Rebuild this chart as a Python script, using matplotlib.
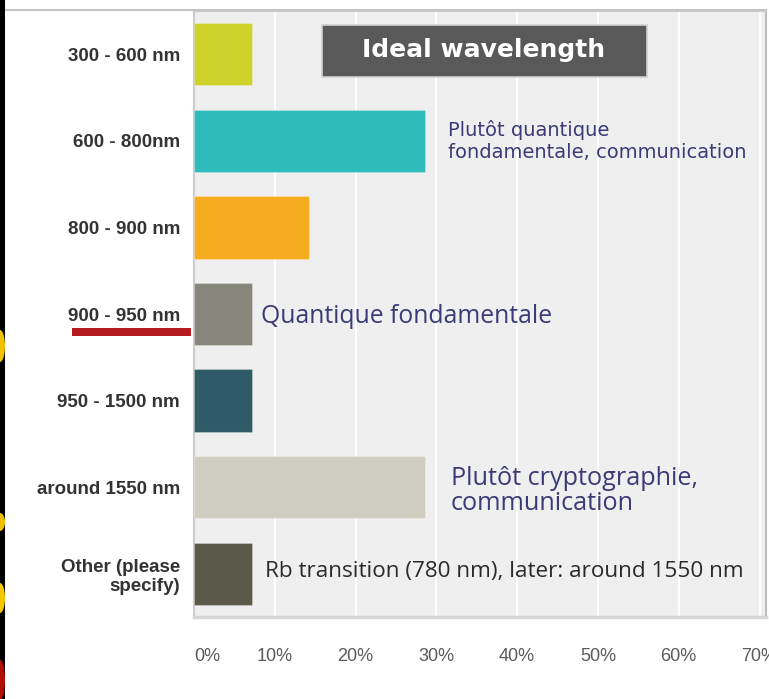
import matplotlib
matplotlib.use("Agg")
import matplotlib.pyplot as plt
from matplotlib.patches import Rectangle, Ellipse
from matplotlib.lines import Line2D

# Survey answers: share of respondents per wavelength range (%)
categories = ["300 - 600 nm", "600 - 800nm", "800 - 900 nm", "900 - 950 nm",
              "950 - 1500 nm", "around 1550 nm", "Other (please\nspecify)"]
shares = [7.14, 28.57, 14.29, 7.14, 7.14, 28.57, 7.14]
bar_colors = ["#cfd22a", "#2fbbbb", "#f5ad1f", "#86877a",
              "#2e5b67", "#cfcdbf", "#5a5848"]
x_ticks = [0, 10, 20, 30, 40, 50, 60, 70]
x_tick_labels = ["0%", "10%", "20%", "30%", "40%", "50%", "60%", "70%"]

W, H = 769, 699
fig = plt.figure(figsize=(W / 100, H / 100), dpi=100)
fig.patch.set_facecolor("white")


def fx(px):
    return px / W


def fy(py):
    return 1 - py / H


ax = fig.add_axes([fx(194), fy(617), fx(766) - fx(194), fy(11) - fy(617)])
ax.set_facecolor("#efefef")

ypos = list(range(len(categories)))
ax.barh(ypos, shares, height=0.72, color=bar_colors,
        edgecolor="#ffffff40", linewidth=0.8, zorder=3)

ax.set_xlim(0, 70.8)
ax.set_ylim(len(categories) - 0.5, -0.5)
ax.set_xticks(x_ticks)
ax.set_xticklabels(x_tick_labels, family="Liberation Sans", fontsize=13,
                   color="#5a5a5a")
ax.set_yticks(ypos)
ax.set_yticklabels(categories, family="Liberation Sans", fontsize=13.5,
                   fontweight="bold", color="#333333")
ax.tick_params(axis="y", length=0, pad=10)
ax.tick_params(axis="x", length=0, pad=22)
ax.get_xticklabels()[0].set_horizontalalignment("left")
ax.xaxis.grid(True, color="white", linewidth=1.4, zorder=1)
ax.set_axisbelow(True)
for side, sp in ax.spines.items():
    sp.set_color("#cccccc")
    sp.set_linewidth(1.5)
ax.spines["bottom"].set_color("#d6d6d6")
ax.spines["bottom"].set_linewidth(2.5)
ax.spines["right"].set_color("#bdbdbd")

# annotations next to the bars
navy = "#3b3b78"
ax.text(31.4, 1, "Plutôt quantique\nfondamentale, communication",
        family="DejaVu Sans", fontsize=14, color=navy, va="center",
        ha="left", linespacing=1.2, zorder=4)
ax.text(8.3, 3.03, "Quantique fondamentale", family="Open Sans",
        fontsize=17.8, color=navy, va="center", ha="left", zorder=4)
ax.text(31.8, 5.04, "Plutôt cryptographie,\ncommunication",
        family="Open Sans", fontsize=18.2, color=navy, va="center",
        ha="left", linespacing=1.0, zorder=4)
ax.text(8.8, 5.97, "Rb transition (780 nm), later: around 1550 nm",
        family="Open Sans", fontsize=16.2, color="#2a2a2a", va="center",
        ha="left", zorder=4)

# title box
fig.add_artist(Rectangle((fx(322), fy(77)), fx(647) - fx(322), fy(25) - fy(77),
                         transform=fig.transFigure, facecolor="#595959",
                         edgecolor="#d0d0d0", linewidth=1.2, zorder=5))
fig.text(fx(484), fy(50), "Ideal wavelength", family="DejaVu Sans",
         fontweight="bold", fontsize=18, color="white", ha="center",
         va="center", zorder=6)

# frame line across the top of the chart area
fig.add_artist(Line2D([fx(5), fx(766)], [fy(10), fy(10)],
                      transform=fig.transFigure, color="#c4c4c4",
                      linewidth=1.5, zorder=2))

# red highlight under the 900 - 950 nm label
fig.add_artist(Rectangle((fx(72), fy(336)), fx(191) - fx(72), fy(328) - fy(336),
                         transform=fig.transFigure, facecolor="#b51b1e",
                         edgecolor="none", zorder=5))

# dark decorative strip on the left edge
strip = Rectangle((0, 0), fx(5), 1, transform=fig.transFigure,
                  facecolor="black", edgecolor="none", zorder=5)
fig.add_artist(strip)
for cy, h, col in [(346, 32, "#f2c200"), (522, 18, "#f0c000"),
                   (598, 30, "#f4c800"), (680, 40, "#b01000")]:
    e = Ellipse((0, fy(cy)), fx(10), h / H, transform=fig.transFigure,
                facecolor=col, edgecolor="none", zorder=6)
    fig.add_artist(e)
    e.set_clip_path(strip)

fig.savefig("out.png", dpi=100)
